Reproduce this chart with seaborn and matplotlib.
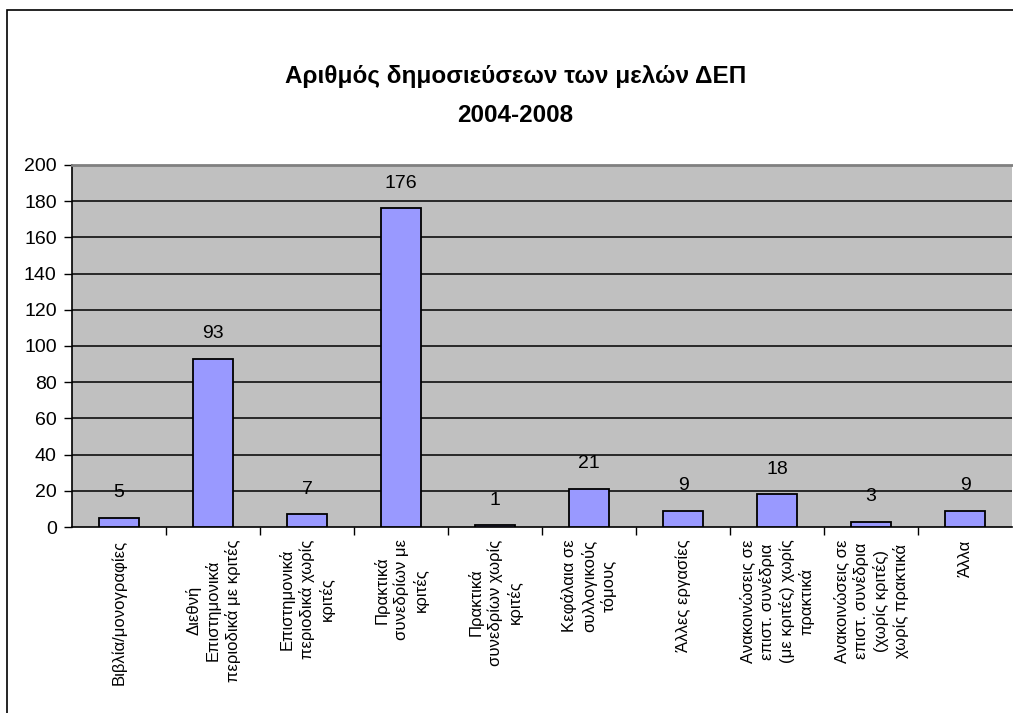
import numpy as np
import pandas as pd
import matplotlib
matplotlib.use("Agg")
import matplotlib.pyplot as plt
from matplotlib.patches import Rectangle
import seaborn as sns

title = "Αριθμός δημοσιεύσεων των μελών ΔΕΠ\n2004-2008"

categories = [
    "Βιβλία/μονογραφίες",
    "Διεθνή\nΕπιστημονικά\nπεριοδικά με κριτές",
    "Επιστημονικά\nπεριοδικά χωρίς\nκριτές",
    "Πρακτικά\nσυνεδρίων με\nκριτές",
    "Πρακτικά\nσυνεδρίων χωρίς\nκριτές",
    "Κεφάλαια σε\nσυλλογικούς\nτόμους",
    "Άλλες εργασίες",
    "Ανακοινώσεις σε\nεπιστ. συνέδρια\n(με κριτές) χωρίς\nπρακτικά",
    "Ανακοινώσεις σε\nεπιστ. συνέδρια\n(χωρίς κριτές)\nχωρίς πρακτικά",
    "Άλλα",
]
values = [5, 93, 7, 176, 1, 21, 9, 18, 3, 9]
y_ticks = [0, 20, 40, 60, 80, 100, 120, 140, 160, 180, 200]

df = pd.DataFrame({"cat": categories, "n": values})

plt.rcParams['font.family'] = ['Liberation Sans', 'DejaVu Sans']

fig = plt.figure(figsize=(10.13, 7.13), dpi=100)
ax = fig.add_axes([72/1013, 186/713, 940/1013, 362/713])
ax.set_facecolor("#C0C0C0")

sns.barplot(data=df, x="cat", y="n", color="#9999FF", edgecolor="black",
            linewidth=1.3, width=0.42, saturation=1, ax=ax, zorder=3)

ax.set_xlim(-0.5, len(categories) - 0.5)
ax.set_ylim(0, 200)
ax.set_yticks(y_ticks)
ax.set_yticklabels([str(v) for v in y_ticks], fontsize=14)
ax.set_xlabel("")
ax.set_ylabel("")

# grid lines
for v in y_ticks[1:-1]:
    ax.axhline(v, color="black", linewidth=1.1, zorder=1)

# data labels above each bar
for i, v in enumerate(values):
    ax.annotate(str(v), (i, v), xytext=(0, 18), textcoords="offset points",
                ha="center", va="center", fontsize=14, zorder=4)

# x labels
ax.set_xticks(range(len(categories)))
ax.set_xticklabels(categories, rotation=90, fontsize=12, va="top", ha="center",
                   multialignment="center", linespacing=1.3)
ax.tick_params(axis="x", which="major", length=0, pad=9)
ax.set_xticks(np.arange(0.5, len(categories) - 0.5, 1), minor=True)
ax.tick_params(axis="x", which="minor", length=6, width=1, color="black", direction="out")
ax.tick_params(axis="y", length=6, width=1, pad=5, direction="out")

for s in ["left", "bottom"]:
    ax.spines[s].set_color("black")
    ax.spines[s].set_linewidth(1.2)
ax.spines["top"].set_color("#808080")
ax.spines["top"].set_linewidth(2)
ax.spines["right"].set_visible(False)

fig.text(0.509, 1 - 96/713, title, ha="center", va="center", fontsize=17.5,
         fontweight="bold", linespacing=1.9)

# outer chart frame (cropped at right and bottom)
fig.patches.append(Rectangle((7/1013, -0.1), 1.2, (713 - 10)/713 + 0.1,
                             transform=fig.transFigure, fill=False,
                             edgecolor="black", linewidth=1.2))

fig.savefig("out.png", dpi=100)
